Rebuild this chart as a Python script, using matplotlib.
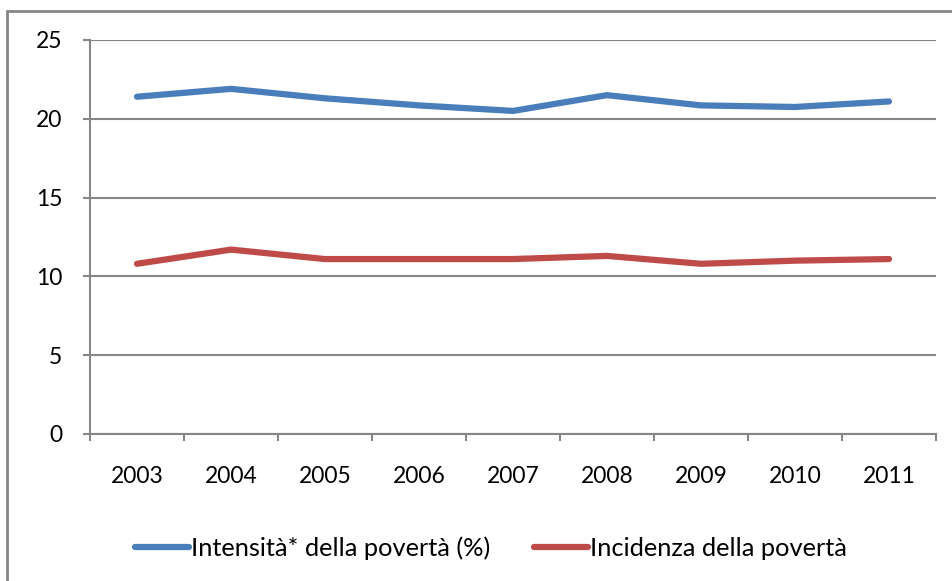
import matplotlib
matplotlib.use("Agg")
import matplotlib.pyplot as plt
from matplotlib.patches import Rectangle
import numpy as np

years = ["2003", "2004", "2005", "2006", "2007", "2008", "2009", "2010", "2011"]
intensita = [21.4, 21.9, 21.3, 20.85, 20.5, 21.5, 20.85, 20.75, 21.1]
incidenza = [10.8, 11.7, 11.1, 11.1, 11.1, 11.3, 10.8, 11.0, 11.1]
yticks = [0, 5, 10, 15, 20, 25]
labels = ["Intensità* della povertà (%)", "Incidenza della povertà"]

plt.rcParams['font.family'] = ['Lato', 'DejaVu Sans']

W, H = 953, 581
fig = plt.figure(figsize=(W / 100, H / 100), dpi=100)
fig.patch.set_facecolor("white")

# outer chart border
fig.patches.append(Rectangle((7 / W, -0.1), 1.2, 1 - 11 / H + 0.1, transform=fig.transFigure,
                             fill=False, edgecolor="#868686", linewidth=2.0, zorder=0))

ax = fig.add_axes([90 / W, 1 - 434 / H, (936 - 90) / W, (434 - 40) / H])
x = np.arange(len(years))
l1, = ax.plot(x, intensita, color="#4A7EBB", lw=4.5, solid_capstyle="round", solid_joinstyle="round")
l2, = ax.plot(x, incidenza, color="#BE4B48", lw=4.5, solid_capstyle="round", solid_joinstyle="round")

ax.set_xlim(-0.5, len(years) - 0.5)
ax.set_ylim(0, 25)
ax.set_yticks(yticks)
ax.set_yticklabels([str(v) for v in yticks], fontsize=16.5)
ax.set_xticks(x)
ax.set_xticklabels(years, fontsize=16.5)
ax.set_xticks(np.arange(-0.5, len(years), 1), minor=True)
ax.tick_params(axis="x", which="major", length=0, pad=23)
ax.tick_params(axis="x", which="minor", length=5, width=1.5, color="#868686", direction="out")
ax.tick_params(axis="y", length=5, width=1.5, color="#868686", direction="out", pad=15)
ax.grid(axis="y", color="#868686", linewidth=1.5)
ax.set_axisbelow(True)
for s in ["top", "right"]:
    ax.spines[s].set_visible(False)
for s in ["left", "bottom"]:
    ax.spines[s].set_color("#868686")
    ax.spines[s].set_linewidth(1.5)

fig.legend([l1, l2], labels, loc="center", bbox_to_anchor=(491 / W, 1 - 548 / H), ncol=2,
           frameon=False, fontsize=18.3, handlelength=2.1, handletextpad=0.08, columnspacing=1.75)

fig.savefig("out.png", dpi=100, facecolor="white")
